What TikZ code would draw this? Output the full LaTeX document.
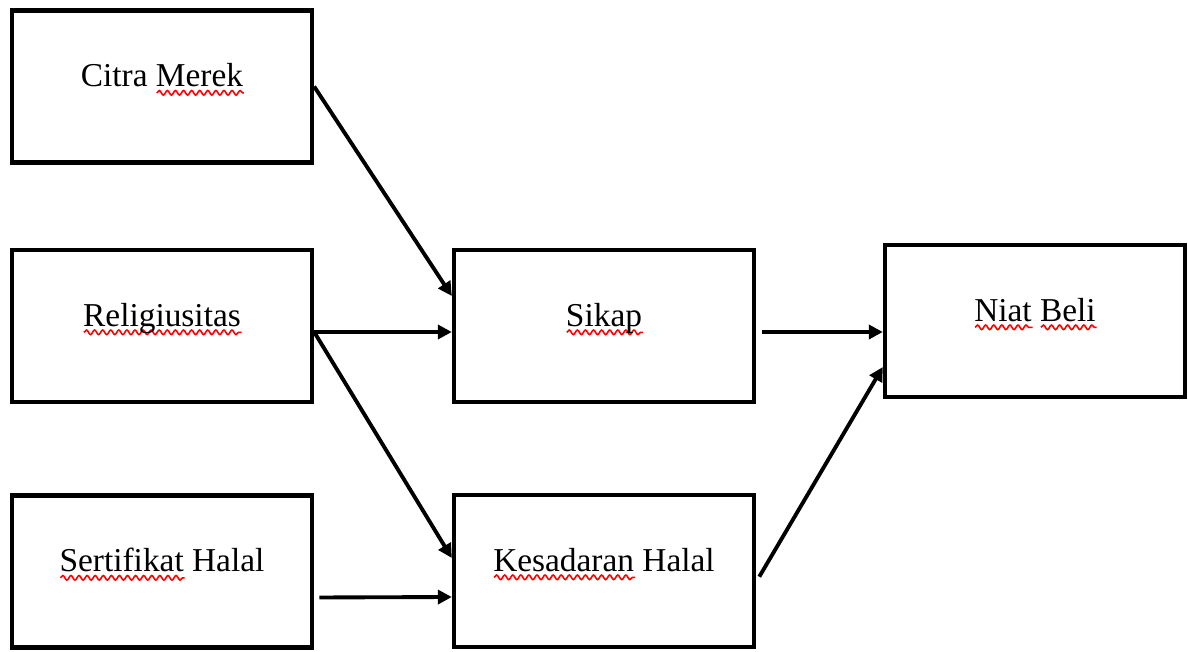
\documentclass[tikz,border=0pt]{standalone}
\usepackage{fontspec}
\setmainfont{Liberation Serif}
\usetikzlibrary{arrows.meta,calc,decorations.pathmorphing}

% Subrayado ondulado rojo, como el del corrector ortografico
\newsavebox{\palabra}
\newcommand{\ondulado}[1]{\sbox{\palabra}{#1}%
  \rlap{\tikz[baseline=0pt]\draw[red, line width=0.9pt, decorate,
    decoration={snake, amplitude=1.3pt, segment length=4.6pt}] (0pt,-3.6pt) -- (\wd\palabra,-3.6pt);}%
  \usebox{\palabra}}

\tikzset{
  caja/.style={draw, line width=2.5pt, minimum width=6cm, minimum height=3.04cm, inner sep=0pt,
    font=\fontsize{19}{22}\selectfont, text height=14pt, text depth=14pt},
  flecha/.style={line width=2.2pt, -{Triangle[length=8pt,width=8pt]}}
}

\begin{document}
\begin{tikzpicture}[x=0.02cm, y=-0.02cm]
% Trabajamos en "pixeles": 1 unidad = 0.02cm, con el eje y hacia abajo.
\useasboundingbox (0,0) rectangle (1188,652);

% Las cajas de las variables
\node[caja] (citra) at (162,86.5) {Citra \ondulado{Merek}};
\node[caja] (relig) at (162,326) {\ondulado{Religiusitas}};
\node[caja] (sertif) at (162,571.5) {\ondulado{Sertifikat} Halal};
\node[caja] (sikap) at (604,326) {\ondulado{Sikap}};
\node[caja] (sadar) at (604,571) {\ondulado{Kesadaran} Halal};
\node[caja] (niat) at (1035,321) {\ondulado{Niat} \ondulado{Beli}};

% Flechas hacia Sikap y Kesadaran Halal (con calc desplazamos un poco los extremos)
\coordinate (salida) at ($(relig.east)+(0,6)$);
\draw[flecha] (citra.east) -- ($(sikap.west)+(0,-30)$);
\draw[flecha] (salida) -- ($(sikap.west)+(0,6)$);
\draw[flecha] (salida) -- ($(sadar.west)+(0,-13)$);
\draw[flecha, shorten <=3pt] ($(sertif.east)+(0,26)$) -- ($(sadar.west)+(0,26)$);

% Flechas hacia Niat Beli
\draw[flecha, shorten <=3.5pt] ($(sikap.east)+(0,6)$) -- ($(niat.west)+(0,11)$);
\draw[flecha, shorten <=3.5pt] ($(sadar.east)+(0,11)$) -- ($(niat.west)+(0,46)$);
\end{tikzpicture}
\end{document}
